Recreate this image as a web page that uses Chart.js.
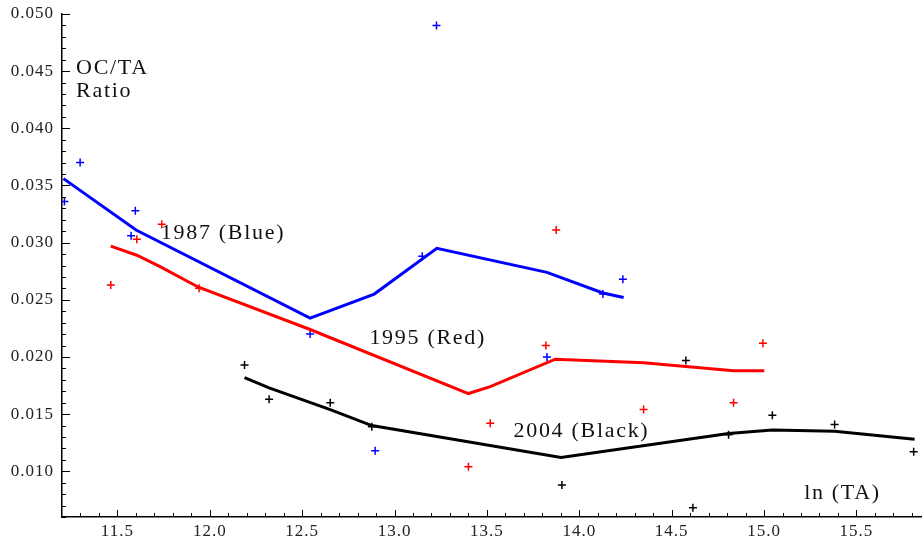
<!DOCTYPE html>
<html>
<head>
<meta charset="utf-8">
<script src="https://cdn.jsdelivr.net/npm/chart.js@4.4.1/dist/chart.umd.min.js"></script>
<style>
  html, body { margin: 0; padding: 0; background: #fff; }
  #wrap { width: 922px; height: 540px; }
</style>
</head>
<body>
<div id="wrap"><canvas id="chart" width="922" height="540"></canvas></div>
<script>
// tick labels
const xTicks = [11.5, 12.0, 12.5, 13.0, 13.5, 14.0, 14.5, 15.0, 15.5];
const yTicks = [0.010, 0.015, 0.020, 0.025, 0.030, 0.035, 0.040, 0.045, 0.050];

// 1987 (blue)
const bluePtX = [11.213, 11.298, 11.597, 11.574, 12.543, 12.895, 13.150, 13.227, 13.825, 14.128, 14.236];
const bluePtY = [0.0336, 0.0370, 0.0328, 0.0306, 0.0220, 0.0118, 0.0288, 0.0490, 0.0200, 0.0255, 0.0268];
const blueLineX = [11.208, 11.601, 12.543, 12.890, 13.229, 13.825, 14.128, 14.240];
const blueLineY = [0.0356, 0.0311, 0.0234, 0.0255, 0.0295, 0.0274, 0.0256, 0.0252];

// 1995 (red)
const redPtX = [11.464, 11.605, 11.740, 11.942, 13.400, 13.518, 13.819, 13.875, 14.348, 14.835, 14.994];
const redPtY = [0.0263, 0.0303, 0.0316, 0.0260, 0.0104, 0.0142, 0.0210, 0.0311, 0.0154, 0.0160, 0.0212];
const redLineX = [11.464, 11.605, 11.731, 11.939, 12.543, 13.400, 13.518, 13.870, 14.348, 14.835, 15.001];
const redLineY = [0.0297, 0.0289, 0.0279, 0.0261, 0.0224, 0.0168, 0.0174, 0.0198, 0.0195, 0.0188, 0.0188];

// 2004 (black)
const blackPtX = [12.188, 12.321, 12.652, 12.877, 13.906, 14.577, 14.615, 14.808, 15.045, 15.382, 15.810];
const blackPtY = [0.0193, 0.0163, 0.0160, 0.0139, 0.0088, 0.0197, 0.0068, 0.0132, 0.0149, 0.0141, 0.0117];
const blackLineX = [12.188, 12.321, 12.652, 12.877, 13.901, 14.808, 15.045, 15.382, 15.815];
const blackLineY = [0.0182, 0.0173, 0.0154, 0.0140, 0.0112, 0.0133, 0.0136, 0.0135, 0.0128];

// text placed in data units (left, baseline)
const notes = [
  { text: "OC/TA", x: 11.276, y: 0.04475 },
  { text: "Ratio", x: 11.276, y: 0.04276 },
  { text: "1987 (Blue)", x: 11.735, y: 0.03035 },
  { text: "1995 (Red)", x: 12.864, y: 0.02116 },
  { text: "2004 (Black)", x: 13.644, y: 0.01298 },
  { text: "ln (TA)", x: 15.217, y: 0.00761 }
];

const FONT = "'Liberation Serif', 'Times New Roman', serif";
const zip = (xs, ys) => xs.map((x, i) => ({ x, y: ys[i] }));

function lineSet(xs, ys, color) {
  return { data: zip(xs, ys), showLine: true, borderColor: color, borderWidth: 3,
           pointRadius: 0, tension: 0, fill: false };
}
function pointSet(xs, ys, color) {
  return { data: zip(xs, ys), showLine: false, pointStyle: "cross", pointRadius: 4,
           pointBorderWidth: 1.5, borderColor: color, backgroundColor: color };
}

const inwardTicks = {
  id: "inwardTicks",
  afterDraw(chart) {
    const { ctx, scales: { x, y } } = chart;
    ctx.save();
    ctx.strokeStyle = "#000";
    ctx.lineWidth = 1;
    ctx.beginPath();
    for (let i = 113; i <= 158; i++) {
      const px = Math.round(x.getPixelForValue(i / 10)) + 0.5;
      const len = i % 5 === 0 ? 7 : 4;
      ctx.moveTo(px, x.top);
      ctx.lineTo(px, x.top - len);
    }
    for (let i = 6; i <= 50; i++) {
      const py = Math.round(y.getPixelForValue(i / 1000)) + 0.5;
      const len = i % 5 === 0 ? 8 : 4;
      ctx.moveTo(y.right, py);
      ctx.lineTo(y.right + len, py);
    }
    ctx.stroke();
    ctx.restore();
  }
};

const noteText = {
  id: "noteText",
  beforeDraw(chart) {
    chart.ctx.letterSpacing = "1px";
  },
  afterDraw(chart) {
    const { ctx, scales: { x, y } } = chart;
    ctx.save();
    ctx.fillStyle = "#111";
    ctx.font = "22px " + FONT;
    ctx.letterSpacing = "1.7px";
    ctx.textAlign = "left";
    ctx.textBaseline = "alphabetic";
    notes.forEach(n => ctx.fillText(n.text, x.getPixelForValue(n.x), y.getPixelForValue(n.y)));
    ctx.restore();
  }
};

new Chart(document.getElementById("chart"), {
  type: "scatter",
  data: {
    datasets: [
      lineSet(blueLineX, blueLineY, "#0000ff"),
      lineSet(redLineX, redLineY, "#ff0000"),
      lineSet(blackLineX, blackLineY, "#000000"),
      pointSet(bluePtX, bluePtY, "#0000ff"),
      pointSet(redPtX, redPtY, "#ff0000"),
      pointSet(blackPtX, blackPtY, "#000000")
    ]
  },
  options: {
    responsive: false,
    animation: false,
    layout: { autoPadding: false, padding: { top: 14, right: 0, left: 0, bottom: 0 } },
    plugins: { legend: { display: false }, tooltip: { enabled: false } },
    scales: {
      x: {
        type: "linear",
        min: 11.2,
        max: 15.855,
        afterBuildTicks: axis => { axis.ticks = xTicks.map(v => ({ value: v })); },
        afterFit: axis => { axis.height = 23; axis.paddingLeft = 0; axis.paddingRight = 0; },
        grid: { display: false, drawTicks: false },
        border: { display: true, color: "#000", width: 1.5 },
        ticks: { padding: 4, color: "#222", font: { family: FONT, size: 17 },
                 maxRotation: 0, callback: v => v.toFixed(1) }
      },
      y: {
        type: "linear",
        min: 0.006,
        max: 0.050,
        afterBuildTicks: axis => { axis.ticks = yTicks.map(v => ({ value: v })); },
        afterFit: axis => { axis.width = 62; axis.paddingTop = 0; axis.paddingBottom = 0; },
        grid: { display: false, drawTicks: false },
        border: { display: true, color: "#000", width: 1.5 },
        ticks: { padding: 8, color: "#222", font: { family: FONT, size: 17 },
                 callback: v => v.toFixed(3) }
      }
    }
  },
  plugins: [inwardTicks, noteText]
});
</script>
</body>
</html>
